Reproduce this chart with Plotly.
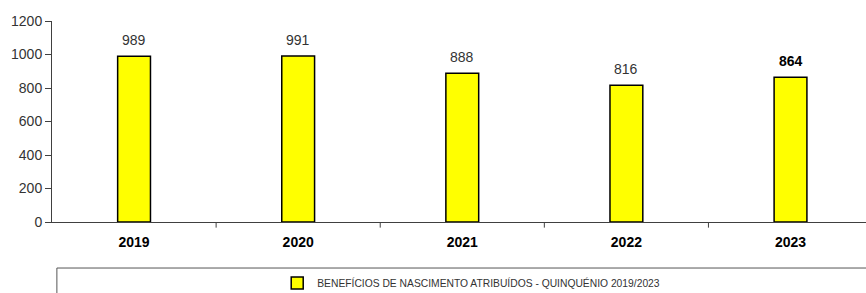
import plotly.graph_objects as go

years = ["2019", "2020", "2021", "2022", "2023"]
values = [989, 991, 888, 816, 864]
bold_flags = [False, False, False, False, True]
series_name = "BENEFÍCIOS DE NASCIMENTO ATRIBUÍDOS - QUINQUÉNIO 2019/2023"
y_ticks = [0, 200, 400, 600, 800, 1000, 1200]

fig = go.Figure()
fig.add_trace(go.Bar(
    x=years, y=values, name=series_name, width=0.2,
    marker=dict(color="#FFFF00", line=dict(color="#000000", width=1.5)),
    showlegend=True,
))

for i, (v, b) in enumerate(zip(values, bold_flags)):
    fig.add_annotation(
        x=i, y=v, xref="x", yref="y", text=f"<b>{v}</b>" if b else str(v),
        showarrow=False, yanchor="bottom", yshift=6,
        font=dict(family="Liberation Sans, Arial", size=14,
                  color="#000000" if b else "#333333"),
    )

# legend frame
fig.add_shape(type="rect", xref="paper", yref="paper",
              x0=0.006, x1=1.05, y0=-0.40, y1=-0.229,
              line=dict(color="#555555", width=1), fillcolor="rgba(0,0,0,0)")

fig.update_layout(
    width=866, height=293,
    margin=dict(l=52, r=0, t=21, b=71, autoexpand=False),
    plot_bgcolor="white", paper_bgcolor="white",
    showlegend=True,
    legend=dict(orientation="h", x=0.515, xanchor="center", y=-0.303, yanchor="middle",
                font=dict(family="Liberation Sans Narrow, Arial Narrow, Liberation Sans", size=10.3, color="#333333"),
                bgcolor="rgba(0,0,0,0)", itemwidth=30),
    xaxis=dict(
        type="category", range=[-0.5, 4.46], automargin=False,
        showline=True, linecolor="#404040", linewidth=1,
        ticks="", showgrid=False, ticklabelstandoff=7,
        tickfont=dict(family="Liberation Sans Narrow, Arial Narrow, Liberation Sans", size=14, color="#000000"),
        tickprefix="<b>", ticksuffix="</b>",
    ),
    yaxis=dict(
        range=[0, 1200], tickvals=y_ticks, showgrid=False, zeroline=False, automargin=False,
        showline=True, linecolor="#404040", linewidth=1,
        ticks="outside", ticklen=6, tickcolor="#404040",
        tickfont=dict(family="Liberation Sans, Arial", size=14, color="#333333"),
    ),
)

# category boundary tick marks on x-axis
for i in range(len(years) - 1):
    fig.add_shape(type="line", xref="x", yref="paper",
                  x0=i + 0.5, x1=i + 0.5, y0=0, y1=-0.028,
                  line=dict(color="#404040", width=1))

fig.write_html("out.html", config={"displayModeBar": False},
               post_script="document.body.style.margin='0';document.body.style.overflow='hidden';")
